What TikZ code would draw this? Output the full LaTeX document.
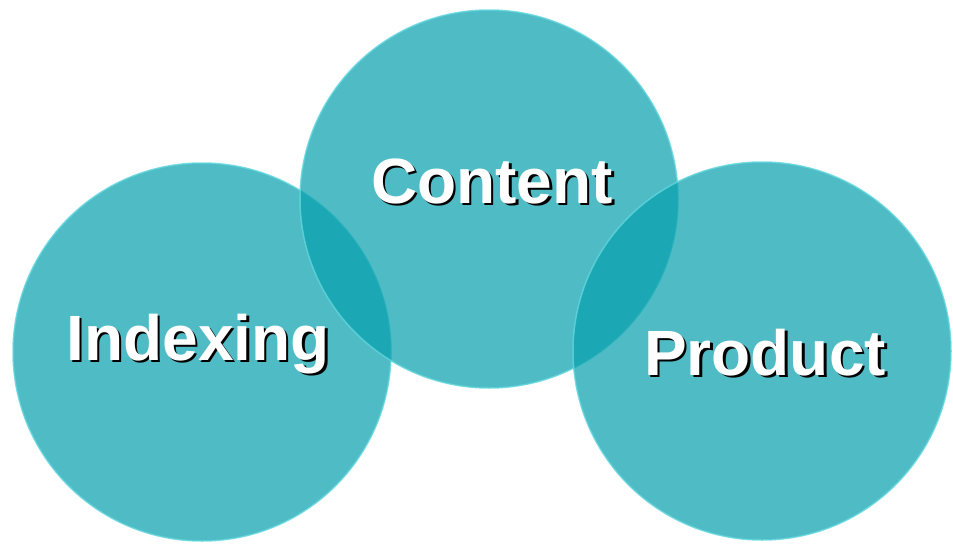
\documentclass[tikz,border=0pt]{standalone}
\usepackage{fontspec}
\setmainfont{Liberation Sans}
\definecolor{discfill}{RGB}{4,158,171}
\definecolor{discrim}{RGB}{96,214,222}
\newcommand\dropshadow[1]{\makebox[0pt][l]{\kern2.5pt\raisebox{-2.5pt}{\color{black}#1}}#1}
\tikzset{
  disc/.style={circle, minimum size=378pt, inner sep=0pt, fill=discfill, fill opacity=0.7, draw=discrim, line width=1.5pt, draw opacity=0.8},
  lbl/.style={anchor=base, inner sep=0pt, text=white, font=\fontsize{64}{64}\selectfont\bfseries}
}
\begin{document}
\begin{tikzpicture}[x=1pt, y=-1pt]
\useasboundingbox (0,0) rectangle (953,549);
\node[disc] (indexing) at (202,352){};
\node[disc] (content) at (489,199){};
\node[disc] (product) at (762,351){};
\node[lbl] (indexinglbl) at (198,360){\dropshadow{Indexing}};
\node[lbl] (contentlbl) at (492,203){\dropshadow{Content}};
\node[lbl] (productlbl) at (765,375){\dropshadow{Product}};
\end{tikzpicture}
\end{document}
